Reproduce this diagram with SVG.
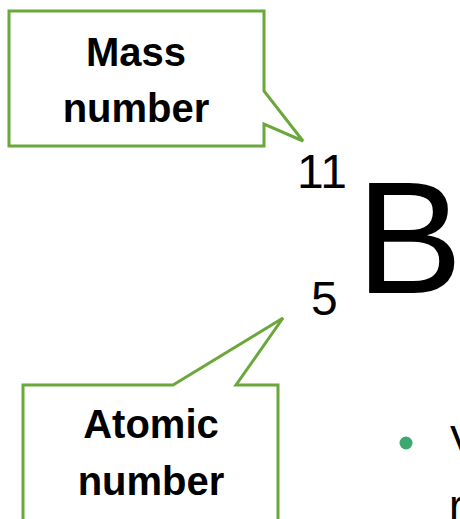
<svg xmlns="http://www.w3.org/2000/svg" width="460" height="519" viewBox="0 0 460 519">
<style>
.callout{fill:#ffffff;stroke:#6AA83B;stroke-width:3;stroke-linejoin:miter}
.lbl{font-family:"Liberation Sans",Arial,sans-serif;font-weight:bold;font-size:40px;fill:#000;text-anchor:middle}
.sym{font-family:"Liberation Sans",Arial,sans-serif;fill:#000}
</style>
<rect width="460" height="519" fill="#ffffff"/>
<g id="mass-number">
<path class="callout" d="M9,11 H264 V91 L303,141 L264,124 V146 H9 Z"/>
<text class="lbl" x="136" y="66">Mass</text>
<text class="lbl" x="136" y="122">number</text>
</g>
<g id="atomic-number">
<path class="callout" d="M23,530 V385 H173 L283,318 L236,385 H278 V530"/>
<text class="lbl" x="151" y="438">Atomic</text>
<text class="lbl" x="151" y="495">number</text>
</g>
<g id="element">
<text class="sym" x="297" y="188" font-size="48">11</text>
<text class="sym" x="311" y="315" font-size="48">5</text>
<text class="sym" x="356" y="293" font-size="160">B</text>
</g>
<g id="bullet">
<circle cx="406" cy="443" r="6.5" fill="#3AA86F"/>
<text class="sym" x="450" y="457" font-size="44">V</text>
<text class="sym" x="449" y="521" font-size="44">r</text>
</g>
</svg>
